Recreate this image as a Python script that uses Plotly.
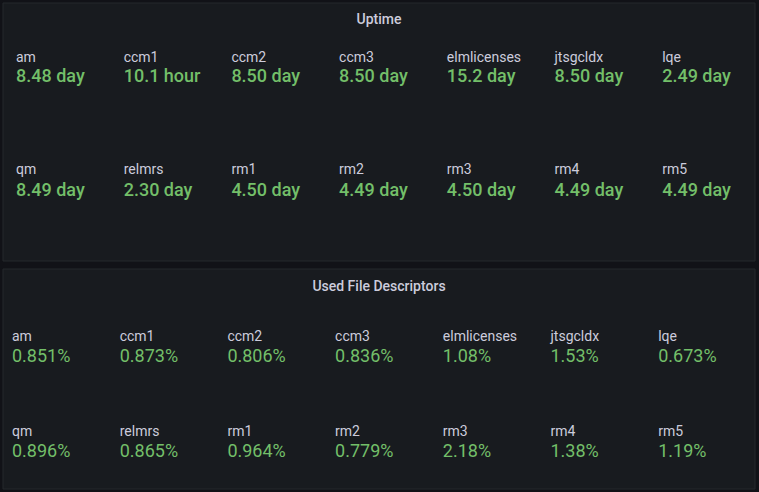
import plotly.graph_objects as go

# ---------------- data ----------------
hosts_row1 = ["am", "ccm1", "ccm2", "ccm3", "elmlicenses", "jtsgcldx", "lqe"]
hosts_row2 = ["qm", "relmrs", "rm1", "rm2", "rm3", "rm4", "rm5"]

uptime_row1 = ["8.48 day", "10.1 hour", "8.50 day", "8.50 day", "15.2 day", "8.50 day", "2.49 day"]
uptime_row2 = ["8.49 day", "2.30 day", "4.50 day", "4.49 day", "4.50 day", "4.49 day", "4.49 day"]

fd_row1 = [0.851, 0.873, 0.806, 0.836, 1.08, 1.53, 0.673]
fd_row2 = [0.896, 0.865, 0.964, 0.779, 2.18, 1.38, 1.19]

panel_titles = ["Uptime", "Used File Descriptors"]

# ---------------- style ----------------
W, H = 759, 492
CANVAS = "#111217"
PANEL = "#181b1f"
BORDER = "#25282c"
LABEL_C = "#ccccdc"
VALUE_C = "#73bf69"
FONT = "Roboto"


def fmt_pct(v):
    return f"{v:.3g}" + "%" if v < 1 else f"{v:.2f}%"


fd_row1_txt = [fmt_pct(v) for v in fd_row1]
fd_row2_txt = [fmt_pct(v) for v in fd_row2]

panels = [
    dict(box=(3, 3, 755, 261), title_y=20.5, x0=16, step=107.7,
         rows=[(hosts_row1, uptime_row1, 58, 77.5), (hosts_row2, uptime_row2, 170, 191)],
         vweight=500),
    dict(box=(3, 269, 755, 489), title_y=287.5, x0=12, step=107.7,
         rows=[(hosts_row1, fd_row1_txt, 337, 357), (hosts_row2, fd_row2_txt, 432, 452)],
         vweight=400),
]

fig = go.Figure()
shapes = []
for p, title in zip(panels, panel_titles):
    x0, y0, x1, y1 = p["box"]
    shapes.append(dict(type="rect", xref="x", yref="y", x0=x0, y0=y0, x1=x1, y1=y1,
                       fillcolor=PANEL, line=dict(color=BORDER, width=1), layer="below"))
    fig.add_trace(go.Scatter(
        x=[(x0 + x1) / 2], y=[p["title_y"]], mode="text", text=[title],
        textposition="middle center",
        textfont=dict(family=FONT, size=14, color=LABEL_C, weight=500),
        hoverinfo="skip", showlegend=False))
    for names, vals, ly, vy in p["rows"]:
        xs = [p["x0"] + i * p["step"] for i in range(len(names))]
        fig.add_trace(go.Scatter(
            x=xs, y=[ly] * len(names), mode="text", text=names,
            textposition="middle right",
            textfont=dict(family=FONT, size=14, color=LABEL_C),
            hoverinfo="skip", showlegend=False))
        fig.add_trace(go.Scatter(
            x=xs, y=[vy] * len(vals), mode="text", text=vals,
            textposition="middle right",
            textfont=dict(family=FONT, size=18, color=VALUE_C, weight=p["vweight"]),
            hoverinfo="skip", showlegend=False))

fig.update_layout(
    width=W, height=H,
    margin=dict(l=0, r=0, t=0, b=0),
    paper_bgcolor=CANVAS, plot_bgcolor=CANVAS,
    shapes=shapes,
    xaxis=dict(range=[0, W], visible=False, fixedrange=True),
    yaxis=dict(range=[H, 0], visible=False, fixedrange=True),
)

fig.write_html(
    "out.html",
    config={"displayModeBar": False},
    post_script="document.body.style.margin='0';document.body.style.overflow='hidden';"
                "document.body.style.background='#111217';",
)
